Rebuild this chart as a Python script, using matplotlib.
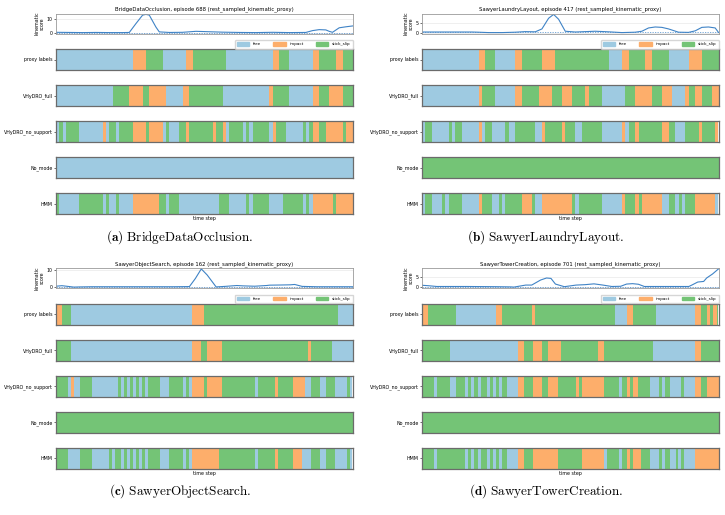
import matplotlib
matplotlib.use("Agg")
import matplotlib.pyplot as plt
from matplotlib.patches import Patch

plt.rcParams['mathtext.fontset'] = 'cm'

F, I, S = "free", "impact", "stick_slip"
colors = {F: "#9ecae1", I: "#fdae6b", S: "#74c476"}
row_names = ["proxy labels", "VHyDRO_full", "VHyDRO_no_support", "No_mode", "HMM"]

# ---- (a) BridgeDataOcclusion, episode 688
a_title = "BridgeDataOcclusion, episode 688 (rest_sampled_kinematic_proxy)"
a_caption = r"$\mathbf{(a)}\ \mathrm{BridgeDataOcclusion.}$"
a_len = 89
a_kin_t = [0, 4, 8, 12, 16, 20, 22, 24, 26, 27, 28, 30, 31, 34, 38, 42, 46, 50, 55, 60, 65, 70, 75, 77, 79, 81, 82, 83, 85, 87, 89]
a_kin = [0.3, 0.2, 0.1, 0.2, 0.1, 0.1, 0.2, 6.5, 12.5, 13.0, 12.5, 4.0, 0.6, 0.2, 0.3, 1.0, 0.7, 0.4, 0.2, 0.1, 0.3, 0.1, 0.2, 1.5, 2.2, 2.0, 1.0, 0.3, 3.5, 4.2, 4.8]
a_proxy = [(F,23),(I,27),(S,32),(F,39),(I,41),(S,51),(F,65),(I,67),(S,70),(F,77),(I,79),(S,84),(I,86),(S,89)]
a_full = [(F,17),(S,22),(I,26),(S,28),(I,33),(F,38),(I,40),(S,50),(F,64),(I,65),(S,70),(F,77),(I,79),(S,82),(I,86),(S,89)]
a_nosup = [(F,1),(S,2),(F,3),(S,7),(F,14),(I,15),(F,16),(S,18),(F,19),(S,23),(I,27),(S,28),(I,32),(F,33),(S,34),(F,37),(S,39),(I,40),(S,47),(I,48),(S,50),(I,51),(F,52),(S,56),(F,57),(S,58),(F,59),(S,64),(F,65),(I,66),(S,69),(F,74),(S,75),(F,76),(S,77),(I,79),(S,81),(I,86),(S,87),(I,89)]
a_nomode = [(F,89)]
a_hmm = [(S,1),(F,7),(S,14),(F,15),(S,16),(F,18),(S,19),(F,23),(I,31),(S,33),(F,34),(S,37),(F,49),(S,52),(F,57),(S,58),(F,59),(S,64),(F,68),(S,74),(F,75),(S,76),(F,77),(I,83),(S,84),(I,89)]

# ---- (b) SawyerLaundryLayout, episode 417
b_title = "SawyerLaundryLayout, episode 417 (rest_sampled_kinematic_proxy)"
b_caption = r"$\mathbf{(b)}\ \mathrm{SawyerLaundryLayout.}$"
b_len = 89
b_kin_t = [0, 5, 10, 15, 17, 20, 24, 28, 31, 34, 36, 38, 39.5, 41, 43, 46, 49, 52, 56, 60, 64, 66, 68, 70, 72, 74, 77, 80, 82, 84, 86, 88, 89]
b_kin = [0.4, 0.4, 0.4, 0.4, 0.3, 0.1, 0.1, 0.3, 0.6, 0.5, 2.0, 7.5, 9.5, 7.0, 0.8, 0.4, 0.6, 0.8, 0.5, 0.1, 0.3, 0.8, 2.5, 3.0, 2.8, 2.0, 0.3, 0.2, 1.0, 2.8, 3.0, 2.5, 0.2]
b_proxy = [(F,17),(I,19),(S,22),(F,28),(I,30),(S,36),(I,40),(S,56),(F,60),(I,62),(S,67),(I,69),(S,74),(F,80),(I,84),(S,89)]
b_full = [(F,17),(I,18),(S,22),(F,28),(I,30),(S,35),(I,39),(S,42),(I,45),(S,49),(I,50),(S,54),(F,61),(S,64),(I,69),(S,72),(I,75),(F,79),(I,80),(S,82),(I,84),(S,87),(I,89)]
b_nosup = [(F,1),(S,3),(F,8),(S,9),(F,10),(S,12),(F,17),(I,18),(F,19),(S,21),(F,25),(S,26),(F,28),(S,34),(F,36),(I,37),(S,42),(I,43),(S,46),(F,48),(S,54),(F,60),(I,61),(F,62),(S,64),(I,65),(S,72),(I,74),(S,76),(F,79),(S,83),(I,84),(S,88),(I,89)]
b_nomode = [(S,89)]
b_hmm = [(F,1),(S,3),(F,6),(S,7),(F,8),(S,12),(F,17),(I,18),(S,21),(F,23),(S,24),(F,25),(S,30),(I,33),(S,34),(F,36),(I,45),(S,46),(F,47),(S,54),(F,60),(I,61),(S,64),(I,65),(S,66),(I,72),(F,74),(S,76),(F,77),(S,78),(F,79),(S,82),(I,88),(F,89)]

# ---- (c) SawyerObjectSearch, episode 162
c_title = "SawyerObjectSearch, episode 162 (rest_sampled_kinematic_proxy)"
c_caption = r"$\mathbf{(c)}\ \mathrm{SawyerObjectSearch.}$"
c_len = 100
c_kin_t = [0, 2, 4, 6, 8, 12, 20, 30, 40, 45, 47, 49, 51, 54, 57, 61, 63, 67, 71, 72, 76, 79, 80.5, 83, 88, 94, 100]
c_kin = [0.6, 0.9, 0.5, 0.1, 0.2, 0.3, 0.3, 0.3, 0.3, 0.4, 5.0, 10.5, 7.0, 0.2, 0.5, 1.0, 0.8, 0.6, 1.0, 1.2, 1.3, 1.4, 1.6, 0.5, 0.3, 0.3, 0.3]
c_proxy = [(I,2),(S,5),(F,46),(I,50),(S,95),(F,100)]
c_full = [(S,5),(F,46),(I,49),(S,51),(I,56),(S,85),(I,86),(S,93),(F,100)]
c_nosup = [(S,4),(F,5),(I,6),(F,8),(S,12),(F,21),(S,22),(F,23),(S,24),(F,25),(S,26),(F,27),(S,28),(F,29),(S,30),(F,31),(S,35),(F,38),(S,43),(F,44),(S,45),(F,46),(I,50),(S,51),(I,56),(S,67),(F,68),(S,74),(I,75),(S,80),(I,84),(F,86),(S,89),(F,91),(S,94),(F,98),(S,99),(F,100)]
c_nomode = [(S,100)]
c_hmm = [(S,4),(F,8),(S,12),(F,18),(S,19),(F,20),(S,22),(F,23),(S,24),(F,25),(S,26),(F,27),(S,28),(F,29),(S,30),(F,31),(S,35),(F,38),(S,43),(F,44),(S,45),(F,46),(I,55),(S,67),(F,68),(S,74),(I,75),(S,80),(I,83),(F,86),(S,89),(F,91),(S,94),(F,98),(S,99),(F,100)]

# ---- (d) SawyerTowerCreation, episode 701
d_title = "SawyerTowerCreation, episode 701 (rest_sampled_kinematic_proxy)"
d_caption = r"$\mathbf{(d)}\ \mathrm{SawyerTowerCreation.}$"
d_len = 100
d_kin_t = [0, 2, 5, 15, 25, 30, 31, 33, 35, 37, 40, 42, 43.5, 45, 48, 52, 55, 58, 61, 64, 67, 69, 71, 73, 75, 80, 90, 91, 93, 95, 96, 98, 100]
d_kin = [0.9, 0.7, 0.3, 0.3, 0.2, 0.1, 0.0, 0.5, 1.0, 1.0, 3.5, 4.5, 4.3, 1.5, 0.2, 1.0, 1.2, 1.6, 1.0, 0.3, 0.4, 1.5, 1.7, 1.4, 0.3, 0.3, 0.3, 1.0, 2.5, 2.8, 4.5, 6.5, 9.0]
d_proxy = [(I,2),(S,11.5),(F,25),(I,27),(S,37),(I,38),(S,65),(F,69),(I,71),(S,79),(F,92),(I,94),(S,96),(I,97),(S,98),(I,99.5),(S,100)]
d_full = [(S,9.5),(F,32.5),(I,34.5),(S,37.5),(I,40.5),(S,42.5),(I,47),(S,59.5),(I,61.5),(S,78),(F,92),(I,94),(S,100)]
d_nosup = [(S,4),(F,5),(S,9.5),(F,11.5),(S,14.5),(F,15.5),(S,16.5),(F,17.5),(S,19),(F,20),(S,22),(F,23),(S,24),(F,25),(S,26),(F,27),(S,28.5),(F,32.5),(I,34.5),(S,37.5),(I,40.5),(S,42.5),(I,46),(S,52),(I,53),(S,54),(I,61.5),(S,66.5),(F,67.5),(S,69),(I,70),(S,71),(I,73),(S,77),(F,80),(S,81),(F,82),(S,83.5),(F,87.5),(S,88.5),(F,92),(I,94),(S,96),(I,100)]
d_nomode = [(S,100)]
d_hmm = [(S,4),(F,5),(S,14.5),(F,15.5),(S,16.5),(F,17.5),(S,19),(F,20),(S,22),(F,23),(S,24),(F,25),(S,26),(F,27),(S,28.5),(F,32.5),(I,34.5),(S,37.5),(I,46),(S,54),(I,61.5),(F,62.5),(S,66.5),(F,67.5),(S,69),(I,70),(S,71),(I,74),(S,77),(F,80),(S,81),(F,82),(S,83.5),(F,85.5),(S,86.5),(F,87.5),(S,88.5),(F,92),(I,100)]

W, H = 725, 515
fs = 3.4
line_c = "#3f83c6"
frame_c = "#6b6b6b"


def px_axes(fig, x, y, w, h):
    return fig.add_axes([x / W, 1 - (y + h) / H, w / W, h / H])


def draw_panel(fig, ox, oy, title, caption, n, kt, kv, rows, yticks):
    ax = px_axes(fig, ox + 56, oy + 13.5, 296.5, 20)
    ax.plot(kt, kv, color=line_c, lw=0.8)
    ax.axhline(0.15, color=line_c, lw=0.6, ls=(0, (1.5, 1.5)), alpha=0.8)
    ax.set_xlim(0, n)
    ax.set_yticks(yticks)
    ax.set_xticks([])
    ax.tick_params(labelsize=fs, length=1.5, width=0.4, pad=1)
    ax.grid(axis='y', color='#e4e4e4', lw=0.4)
    ax.set_axisbelow(True)
    ax.set_ylabel("kinematic\nscore", fontsize=fs, labelpad=1.5, linespacing=0.9)
    ax.set_title(title, fontsize=3.8, pad=2)
    for sp in ax.spines.values():
        sp.set_color("#9a9a9a")
        sp.set_linewidth(0.6)

    tops = [49, 85, 121, 157, 193]
    for k, (name, segs) in enumerate(zip(row_names, rows)):
        bx = px_axes(fig, ox + 56, oy + tops[k], 296.5, 21)
        start = 0
        for lab, end in segs:
            bx.barh(0, end - start, left=start, height=1, color=colors[lab], linewidth=0)
            start = end
        bx.set_xlim(0, n)
        bx.set_ylim(-0.5, 0.5)
        bx.set_xticks([])
        bx.set_yticks([0])
        bx.set_yticklabels([name])
        bx.tick_params(labelsize=fs, length=1.5, width=0.4, pad=1)
        for sp in bx.spines.values():
            sp.set_color(frame_c)
            sp.set_linewidth(0.9)
        if k == 0:
            handles = [Patch(color=colors[c], label=c) for c in (F, I, S)]
            bx.legend(handles=handles, ncol=3, fontsize=3, loc='lower right',
                      bbox_to_anchor=(1.0, 1.02), borderaxespad=0, frameon=True,
                      handlelength=3, handleheight=1.0, columnspacing=3,
                      borderpad=0.5, fancybox=True, edgecolor='#cccccc')
        if k == 4:
            bx.set_xlabel("time step", fontsize=fs, labelpad=1.5)

    fig.text((ox + 180) / W, 1 - (oy + 237) / H, caption, fontsize=9.5,
             ha='center', va='center')


fig = plt.figure(figsize=(W / 100, H / 100), dpi=100)

draw_panel(fig, 0, 0, a_title, a_caption, a_len, a_kin_t, a_kin,
           [a_proxy, a_full, a_nosup, a_nomode, a_hmm], [0, 10])
draw_panel(fig, 366, 0, b_title, b_caption, b_len, b_kin_t, b_kin,
           [b_proxy, b_full, b_nosup, b_nomode, b_hmm], [0, 5])
draw_panel(fig, 0, 254.5, c_title, c_caption, c_len, c_kin_t, c_kin,
           [c_proxy, c_full, c_nosup, c_nomode, c_hmm], [0, 10])
draw_panel(fig, 366, 254.5, d_title, d_caption, d_len, d_kin_t, d_kin,
           [d_proxy, d_full, d_nosup, d_nomode, d_hmm], [0, 5])

fig.savefig("out.png", dpi=100)
